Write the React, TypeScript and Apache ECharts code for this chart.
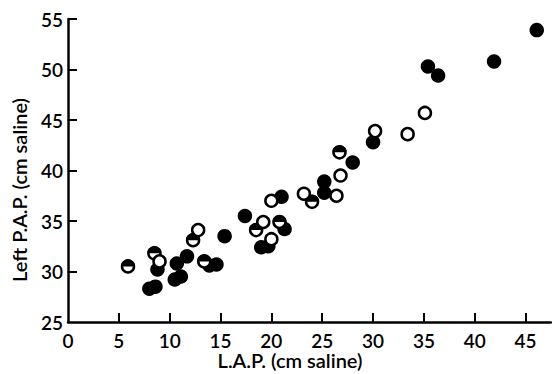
import React, { useEffect, useRef } from "react";
import * as echarts from "echarts";

const filledPoints: [number, number][] = [
  [46.1, 53.9], [41.9, 50.8], [35.4, 50.3], [36.4, 49.4], [30.0, 42.8],
  [28.0, 40.8], [25.2, 38.9], [25.2, 37.8], [21.0, 37.4], [21.3, 34.2],
  [19.0, 32.4], [19.7, 32.5], [17.4, 35.5], [15.4, 33.5], [13.9, 30.6],
  [14.6, 30.7], [10.7, 30.8], [11.7, 31.5], [10.5, 29.2], [11.1, 29.5],
  [8.8, 30.2], [8.0, 28.3], [8.6, 28.5],
];

const openPoints: [number, number][] = [
  [9.0, 31.0], [12.8, 34.1], [19.2, 34.9], [20.0, 33.2], [20.0, 37.0],
  [23.2, 37.7], [26.4, 37.5], [26.8, 39.5], [30.2, 43.9], [33.4, 43.6],
  [35.1, 45.7],
];

const halfPoints: [number, number][] = [
  [5.9, 30.5], [8.5, 31.8], [12.3, 33.1], [13.4, 31.0], [18.5, 34.1],
  [20.8, 34.9], [24.0, 36.9], [26.7, 41.8],
];

const xTicks = [0, 5, 10, 15, 20, 25, 30, 35, 40, 45];
const yTicks = [25, 30, 35, 40, 45, 50, 55];

const xName = "L.A.P. (cm saline)";
const yName = "Left P.A.P. (cm saline)";

const FONT = "Lato";
const WEIGHT = 600;

export default function App() {
  const ref = useRef<HTMLDivElement>(null);
  useEffect(() => {
    document.body.style.margin = "0";
    if (!ref.current) return;
    const chart = echarts.init(ref.current, null, { renderer: "svg" });
    const halfPath = "path://M0,10 A10,10 0 0 1 20,10 Z";
    chart.setOption({
      animation: false,
      backgroundColor: "#fff",
      grid: { left: 68, right: 1, top: 19, bottom: 52, containLabel: false },
      xAxis: {
        type: "value",
        min: 0,
        max: 47.5,
        axisLine: { show: true, lineStyle: { color: "#000", width: 2.5 } },
        axisTick: {
          show: true,
          inside: true,
          length: 9,
          lineStyle: { color: "#000", width: 2 },
          customValues: xTicks.slice(1),
        },
        axisLabel: {
          color: "#000",
          fontFamily: FONT,
          fontWeight: WEIGHT,
          fontSize: 19,
          lineHeight: 16,
          margin: 10,
          customValues: xTicks,
        },
        splitLine: { show: false },
      },
      yAxis: {
        type: "value",
        min: 25,
        max: 55,
        interval: 5,
        axisLine: { show: true, lineStyle: { color: "#000", width: 2.5 } },
        axisTick: {
          show: true,
          inside: true,
          length: 9,
          lineStyle: { color: "#000", width: 2 },
          customValues: yTicks.slice(1),
        },
        axisLabel: {
          color: "#000",
          fontFamily: FONT,
          fontWeight: WEIGHT,
          fontSize: 19,
          margin: 5,
          customValues: yTicks,
        },
        splitLine: { show: false },
      },
      graphic: [
        {
          type: "text",
          x: 290,
          y: 360,
          style: {
            text: xName,
            fontFamily: FONT,
            fontWeight: WEIGHT,
            fontSize: 20,
            lineHeight: 17,
            fill: "#000",
            textAlign: "center",
            textVerticalAlign: "middle",
          },
        },
        {
          type: "text",
          x: 19,
          y: 190,
          rotation: Math.PI / 2,
          style: {
            text: yName,
            fontFamily: FONT,
            fontWeight: WEIGHT,
            fontSize: 20,
            fill: "#000",
            textAlign: "center",
            textVerticalAlign: "middle",
          },
        },
      ],
      series: [
        {
          type: "scatter",
          name: "filled",
          data: filledPoints,
          symbol: "circle",
          symbolSize: 14.5,
          itemStyle: { color: "#000", opacity: 1 },
          z: 2,
        },
        {
          type: "scatter",
          name: "halfBase",
          data: halfPoints,
          symbol: "circle",
          symbolSize: 12,
          itemStyle: { color: "#fff", borderColor: "#000", borderWidth: 2.5, opacity: 1 },
          z: 3,
        },
        {
          type: "scatter",
          name: "halfTop",
          data: halfPoints,
          symbol: halfPath,
          symbolKeepAspect: true,
          symbolSize: 14,
          symbolOffset: [0, -3.5],
          itemStyle: { color: "#000", opacity: 1 },
          z: 4,
        },
        {
          type: "scatter",
          name: "open",
          data: openPoints,
          symbol: "circle",
          symbolSize: 12,
          itemStyle: { color: "#fff", borderColor: "#000", borderWidth: 2.5, opacity: 1 },
          z: 5,
        },
      ],
    });
    return () => chart.dispose();
  }, []);
  return <div ref={ref} style={{ width: 552, height: 374 }} />;
}
